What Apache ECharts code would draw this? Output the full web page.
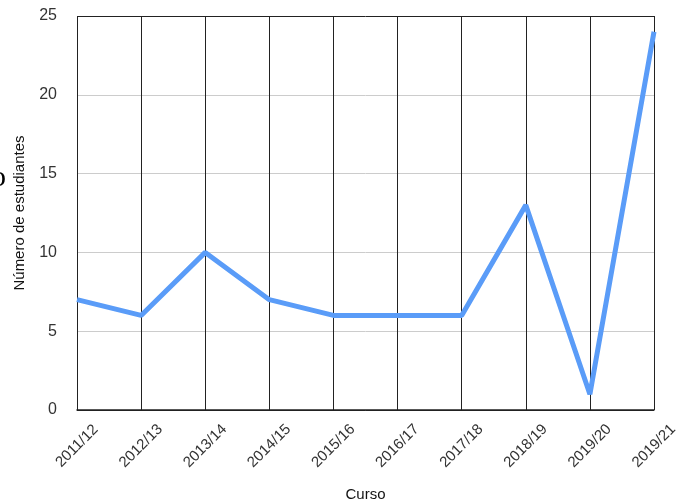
<!DOCTYPE html>
<html><head><meta charset="utf-8">
<script src="https://cdn.jsdelivr.net/npm/echarts@6/dist/echarts.min.js"></script>
<style>html,body{margin:0;padding:0;background:#fff}#c{width:690px;height:504px}</style>
</head><body><div id="c"></div>
<script>
var categories = ['2011/12','2012/13','2013/14','2014/15','2015/16','2016/17','2017/18','2018/19','2019/20','2019/21'];
var students = [7, 6, 10, 7, 6, 6, 6, 13, 1, 24];
var yTicks = [0, 5, 10, 15, 20, 25];
var font = 'Liberation Sans, Arial, Helvetica, sans-serif';
var chart = echarts.init(document.getElementById('c'), null, {renderer: 'canvas'});
chart.setOption({
  animation: false,
  grid: {left: 77, right: 36, top: 16, bottom: 94, outerBoundsMode: 'none', containLabel: false},
  xAxis: {
    type: 'category', data: categories, boundaryGap: false,
    name: 'Curso', nameLocation: 'middle', nameGap: 77,
    nameTextStyle: {color: '#111', fontSize: 15, fontFamily: font},
    axisLine: {lineStyle: {color: '#222', width: 1.5}},
    axisTick: {show: false},
    axisLabel: {rotate: 45, align: 'center', verticalAlign: 'middle', color: '#333', fontSize: 15, fontFamily: font, margin: 36},
    splitLine: {show: true, lineStyle: {color: '#222', width: 1}}
  },
  yAxis: {
    type: 'value', min: yTicks[0], max: yTicks[yTicks.length - 1], interval: 5,
    name: 'Número de estudiantes', nameLocation: 'middle', nameGap: 50,
    nameTextStyle: {color: '#111', fontSize: 15, fontFamily: font},
    axisLine: {show: false}, axisTick: {show: false},
    axisLabel: {color: '#333', fontSize: 16, fontFamily: font, margin: 20},
    splitLine: {lineStyle: {color: ['#222', '#ccc', '#ccc', '#ccc', '#ccc', '#222'], width: 1}}
  },
  graphic: [{type: 'text', left: -9, top: 163, style: {text: 'o', font: '30px "Liberation Serif", serif', fill: '#000'}}],
  series: [{
    type: 'line', data: students, symbol: 'none',
    lineStyle: {color: '#5a9cf8', width: 5}
  }]
});
</script></body></html>
